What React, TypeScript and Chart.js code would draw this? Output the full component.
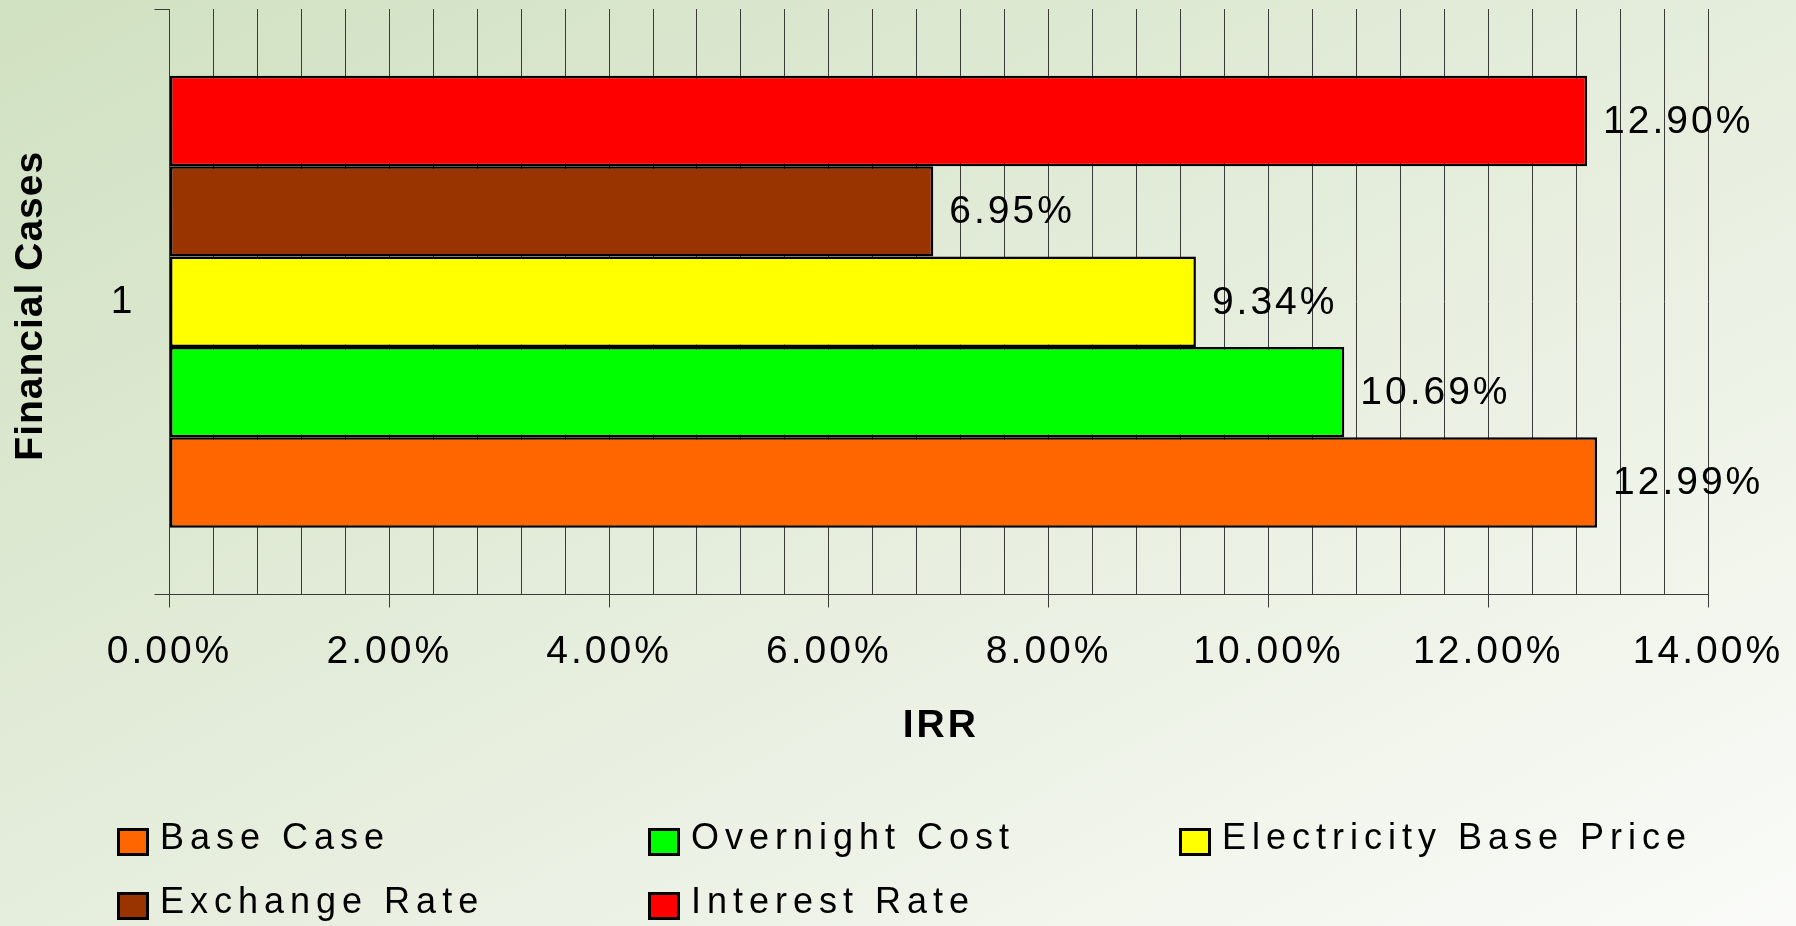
import React, { useEffect, useRef } from "react";
import { Chart, registerables } from "chart.js";

Chart.register(...registerables);

// ---- data ----
const categories = ["1"];
const seriesNames = ["Base Case", "Overnight Cost", "Electricity Base Price", "Exchange Rate", "Interest Rate"];
const seriesValues = [12.99, 10.69, 9.34, 6.95, 12.9];
const seriesColors = ["#FF6600", "#00FF00", "#FFFF00", "#993300", "#FF0000"];
const xAxisMin = 0;
const xAxisMax = 14;
const xMinorStep = 0.4;
const xMajorStep = 2;
const xTitle = "IRR";
const yTitle = "Financial Cases";

const FONT = '"Liberation Sans", Arial, Helvetica, sans-serif';
const AXIS_COLOR = "#3a3a3a";

const isMajor = (v: number) => Math.abs(v / xMajorStep - Math.round(v / xMajorStep)) < 1e-6;

const textPlugin = {
  id: "customText",
  beforeDraw(chart: any) {
    chart.ctx.letterSpacing = "3px";
  },
  afterDatasetsDraw(chart: any) {
    const ctx = chart.ctx;
    ctx.save();
    ctx.font = `39px ${FONT}`;
    ctx.letterSpacing = "3px";
    ctx.fillStyle = "#000";
    ctx.textAlign = "left";
    ctx.textBaseline = "middle";
    chart.data.datasets.forEach((ds: any, i: number) => {
      const meta = chart.getDatasetMeta(i);
      meta.data.forEach((el: any, j: number) => {
        const v = ds.data[j] as number;
        ctx.fillText(v.toFixed(2) + "%", el.x + 16, el.y + 1);
      });
    });
    ctx.restore();
  },
  afterDraw(chart: any) {
    const ctx = chart.ctx;
    const area = chart.chartArea;
    ctx.save();
    ctx.fillStyle = "#000";
    ctx.textAlign = "center";
    ctx.textBaseline = "middle";
    ctx.font = `bold 39px ${FONT}`;
    ctx.letterSpacing = "3px";
    ctx.fillText(xTitle, (area.left + area.right) / 2 + 2, 726);
    ctx.letterSpacing = "1px";
    ctx.translate(31, (area.top + area.bottom) / 2 + 4);
    ctx.rotate(-Math.PI / 2);
    ctx.fillText(yTitle, 0, 0);
    ctx.restore();
  },
};

export default function App() {
  const canvasRef = useRef<HTMLCanvasElement | null>(null);

  useEffect(() => {
    const canvas = canvasRef.current;
    if (!canvas) return;
    // bars are stacked top-to-bottom in reverse legend order (Excel style)
    const order = seriesNames.map((_, i) => i).reverse();
    const chart = new Chart(canvas, {
      type: "bar",
      data: {
        labels: categories,
        datasets: order.map((i) => ({
          label: seriesNames[i],
          data: [seriesValues[i]],
          backgroundColor: seriesColors[i],
          borderColor: "#000",
          borderWidth: 2.5,
          borderSkipped: false,
          categoryPercentage: 0.772,
          barPercentage: 1.0,
        })),
      },
      options: {
        indexAxis: "y",
        responsive: false,
        animation: false,
        devicePixelRatio: 1,
        layout: { padding: { top: 9, right: 88, bottom: 166, left: 0 } },
        plugins: {
          legend: { display: false },
          tooltip: { enabled: false },
          title: { display: false },
        },
        scales: {
          x: {
            type: "linear",
            min: xAxisMin,
            max: xAxisMax,
            afterFit: (scale: any) => {
              scale.height = 165.5;
              scale.paddingLeft = 0;
              scale.paddingRight = 0;
            },
            ticks: {
              stepSize: xMinorStep,
              autoSkip: false,
              maxRotation: 0,
              minRotation: 0,
              padding: 21,
              color: "#000",
              font: { family: FONT, size: 39 },
              callback: (v: any) => (isMajor(Number(v)) ? Number(v).toFixed(2) + "%" : ""),
            },
            grid: {
              display: true,
              drawOnChartArea: true,
              drawTicks: true,
              tickLength: 13,
              color: AXIS_COLOR,
              lineWidth: 1,
              tickColor: (c: any) => (c.tick && isMajor(c.tick.value) ? AXIS_COLOR : "rgba(0,0,0,0)"),
            },
            border: { display: true, color: AXIS_COLOR, width: 1 },
            title: { display: false },
          },
          y: {
            type: "category",
            afterFit: (scale: any) => {
              scale.width = 169.5;
              scale.paddingTop = 0;
              scale.paddingBottom = 0;
            },
            ticks: {
              padding: 19,
              color: "#000",
              font: { family: FONT, size: 39 },
            },
            grid: {
              display: true,
              drawOnChartArea: false,
              drawTicks: true,
              tickLength: 15,
              color: AXIS_COLOR,
              lineWidth: 1,
            },
            border: { display: true, color: AXIS_COLOR, width: 1 },
            title: { display: false },
          },
        },
      } as any,
      plugins: [textPlugin],
    });
    return () => chart.destroy();
  }, []);

  return (
    <div
      style={{
        position: "fixed",
        left: 0,
        top: 0,
        width: 1796,
        height: 926,
        overflow: "hidden",
        background: "linear-gradient(to bottom right, #d0e1c1 0%, #e5eddc 50%, #fafbf8 100%)",
      }}
    >
      <canvas ref={canvasRef} width={1796} height={926} style={{ display: "block", position: "absolute", left: 0, top: 0 }} />
      {seriesNames.map((name, i) => {
        const col = i % 3;
        const row = Math.floor(i / 3);
        return (
          <div
            key={name}
            style={{
              position: "absolute",
              left: 117 + col * 531,
              top: 819 + row * 64,
              display: "flex",
              alignItems: "flex-start",
              font: `36px ${FONT}`,
              lineHeight: "36px",
              letterSpacing: "6px",
              whiteSpace: "nowrap",
              color: "#000",
            }}
          >
            <span
              style={{
                display: "block",
                width: 32,
                height: 28,
                boxSizing: "border-box",
                border: "3px solid #000",
                background: seriesColors[i],
                marginTop: 9,
                marginRight: 11,
              }}
            />
            <span>{name}</span>
          </div>
        );
      })}
    </div>
  );
}
